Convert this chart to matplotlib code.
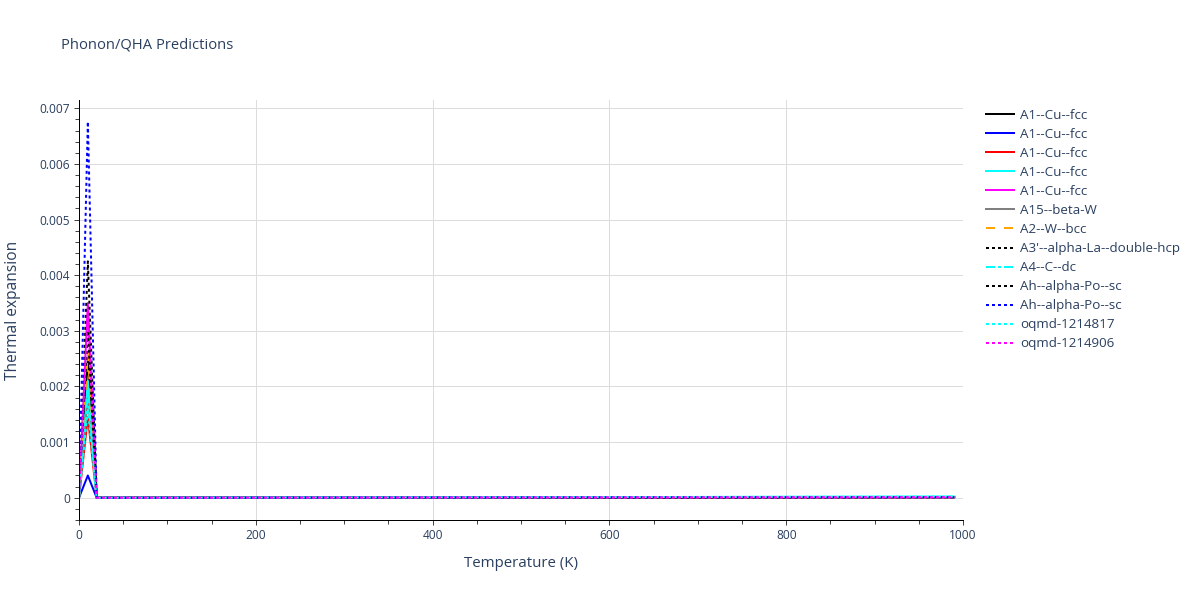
import matplotlib
matplotlib.use('Agg')
import matplotlib.pyplot as plt
from matplotlib.ticker import MultipleLocator, FuncFormatter

# ── Data ──────────────────────────────────────────────────────────────────────
temperature = [0, 10, 20, 990]   # K

labels = [
    'A1--Cu--fcc', 'A1--Cu--fcc', 'A1--Cu--fcc', 'A1--Cu--fcc', 'A1--Cu--fcc',
    'A15--beta-W', 'A2--W--bcc', "A3'--alpha-La--double-hcp", 'A4--C--dc',
    'Ah--alpha-Po--sc', 'Ah--alpha-Po--sc', 'oqmd-1214817', 'oqmd-1214906',
]

a1_black    = [0, 0.00250, 0, 0.00001]
a1_blue     = [0, 0.00040, 0, 0.00001]
a1_red      = [0, 0.00145, 0, 0.00001]
a1_cyan     = [0, 0.00210, 0, 0.00002]
a1_magenta  = [0, 0.00350, 0, 0.00001]
a15_gray    = [0, 0.00180, 0, 0.00001]
a2_orange   = [0, 0.00260, 0, 0.00001]
a3_black    = [0, 0.00425, 0, 0.00001]
a4_cyan     = [0, 0.00190, 0, 0.00002]
ah_black    = [0, 0.00300, 0, 0.00001]
ah_blue     = [0, 0.00676, 0, 0.00001]
oq17_cyan   = [0, 0.00160, 0, 0.00002]
oq06_mag    = [0, 0.00340, 0, 0.00001]

series = [a1_black, a1_blue, a1_red, a1_cyan, a1_magenta, a15_gray, a2_orange,
          a3_black, a4_cyan, ah_black, ah_blue, oq17_cyan, oq06_mag]

colors = ['black', 'blue', 'red', 'cyan', 'magenta', 'gray', 'orange',
          'black', 'cyan', 'black', 'blue', 'cyan', 'magenta']
styles = ['solid', 'solid', 'solid', 'solid', 'solid', 'solid', 'dash',
          'dot', 'dashdot', 'dot', 'dot', 'dot', 'dot']

# plotly-like dash patterns (in units of line width)
dash_map = {
    'solid':   None,
    'dash':    (4.5, 4.5),
    'dot':     (1.5, 1.5),
    'dashdot': (4.5, 1.5, 1.5, 1.5),
}

# ── Figure ────────────────────────────────────────────────────────────────────
plt.rcParams['font.family'] = ['Open Sans', 'DejaVu Sans']
text_col = '#2a3f5f'
px = 0.72  # points per pixel at dpi 100

fig = plt.figure(figsize=(12, 6), dpi=100)
ax = fig.add_axes([79 / 1200, 1 - 520 / 600, (963 - 79) / 1200, (520 - 100) / 600])

for y, c, s, lab in zip(series, colors, styles, labels):
    line, = ax.plot(temperature, y, color=c, linewidth=2 * px, label=lab)
    if dash_map[s] is not None:
        line.set_dashes(dash_map[s])

ax.set_xlim(0, 1000)
ax.set_ylim(-0.0004, 0.00715)

ax.xaxis.set_major_locator(MultipleLocator(200))
ax.xaxis.set_minor_locator(MultipleLocator(50))
ax.yaxis.set_major_locator(MultipleLocator(0.001))
ax.yaxis.set_minor_locator(MultipleLocator(0.0002))
ax.yaxis.set_major_formatter(FuncFormatter(lambda v, p: '0' if abs(v) < 1e-12 else f'{v:.3f}'))

ax.grid(True, which='major', color='#dcdcdc', linewidth=1 * px)
ax.set_axisbelow(True)
for side in ['top', 'right']:
    ax.spines[side].set_visible(False)
for side in ['left', 'bottom']:
    ax.spines[side].set_color('black')
    ax.spines[side].set_linewidth(1 * px)

ax.tick_params(which='major', direction='out', length=5 * px, width=1 * px,
               color='#444444', labelsize=12 * px, labelcolor=text_col, pad=3)
ax.tick_params(which='minor', direction='out', length=4 * px, width=1 * px,
               color='#444444')

ax.set_xlabel('Temperature (K)', fontsize=15 * px, color=text_col, labelpad=10)
ax.set_ylabel('Thermal expansion', fontsize=15.5 * px, color=text_col, labelpad=13)

fig.text(61 / 1200, 1 - 45 / 600, 'Phonon/QHA Predictions', fontsize=14.7 * px,
         color=text_col, ha='left', va='center')

leg = ax.legend(loc='upper left', bbox_to_anchor=(986 / 1200, 1 - 109 / 600),
                bbox_transform=fig.transFigure, frameon=False,
                fontsize=13.4 * px, handlelength=2.1, handletextpad=0.45,
                labelspacing=0.45, borderaxespad=0, borderpad=0)
for t in leg.get_texts():
    t.set_color(text_col)

fig.savefig('out.png', dpi=100)
